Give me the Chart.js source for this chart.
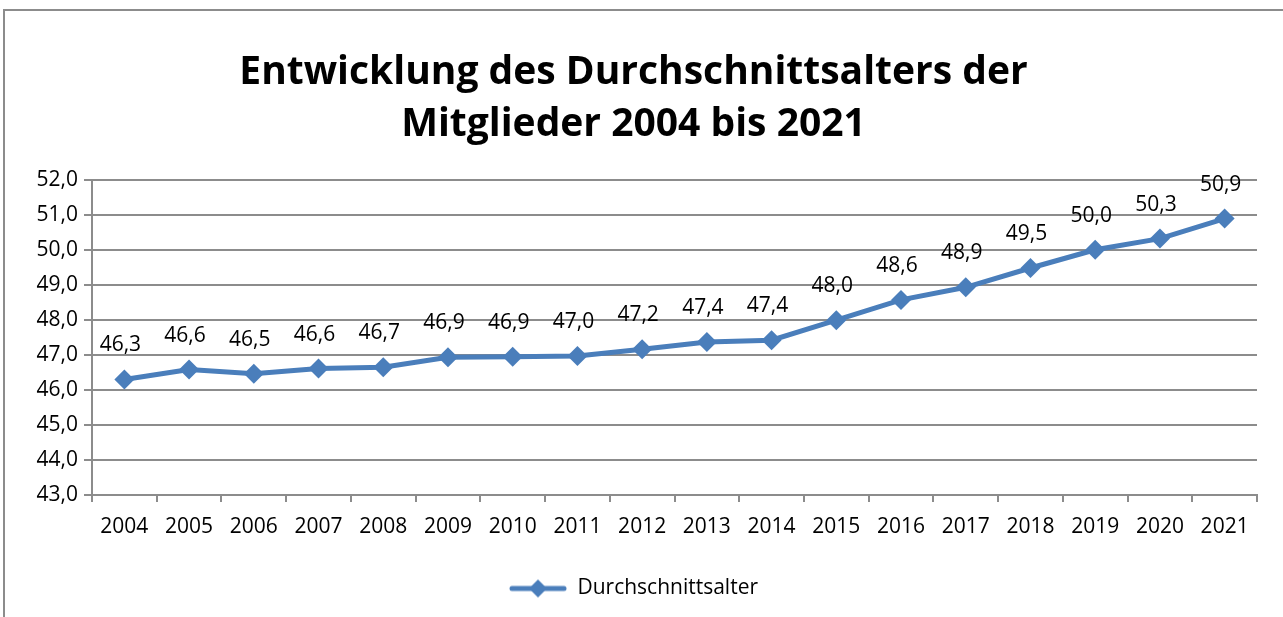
<!DOCTYPE html>
<html>
<head>
<meta charset="utf-8">
<script src="https://cdn.jsdelivr.net/npm/chart.js@4"></script>
<style>
    body { margin: 0; background: #fff; overflow: hidden; }
    #frame {
        position: absolute; left: 3px; top: 9px; width: 1300px; height: 700px;
        border-left: 2px solid #8c8c8c; border-top: 2px solid #8c8c8c;
    }
    #wrap { position: absolute; left: 0; top: 0; width: 1283px; height: 617px; }
</style>
</head>
<body>
<div id="frame"></div>
<div id="wrap"><canvas id="chart" width="1283" height="617"></canvas></div>
<script>
// Data
const years = ['2004', '2005', '2006', '2007', '2008', '2009', '2010', '2011', '2012',
    '2013', '2014', '2015', '2016', '2017', '2018', '2019', '2020', '2021'];
const averageAge = [46.30, 46.58, 46.46, 46.61, 46.65, 46.93, 46.95, 46.97, 47.16,
    47.37, 47.42, 47.99, 48.57, 48.93, 49.48, 50.00, 50.32, 50.89];
const ageLabels = ['46,3', '46,6', '46,5', '46,6', '46,7', '46,9', '46,9', '47,0', '47,2',
    '47,4', '47,4', '48,0', '48,6', '48,9', '49,5', '50,0', '50,3', '50,9'];
const yTicks = [43, 44, 45, 46, 47, 48, 49, 50, 51, 52];

const blue = '#4a7ebb';
const fontFamily = '"Open Sans", "Noto Sans", sans-serif';
const textSize = 21;

// Legend symbol: line with a diamond in the middle
const legendIcon = document.createElement('canvas');
legendIcon.width = 58;
legendIcon.height = 20;
(() => {
    const c = legendIcon.getContext('2d');
    c.strokeStyle = blue;
    c.lineWidth = 5;
    c.lineCap = 'round';
    c.beginPath();
    c.moveTo(3, 10);
    c.lineTo(55, 10);
    c.stroke();
    c.fillStyle = blue;
    c.beginPath();
    c.moveTo(29, 1);
    c.lineTo(38, 10);
    c.lineTo(29, 19);
    c.lineTo(20, 10);
    c.closePath();
    c.fill();
})();

// Value labels above the points
const valueLabels = {
    id: 'valueLabels',
    afterDatasetsDraw(chart) {
        const ctx = chart.ctx;
        const meta = chart.getDatasetMeta(0);
        ctx.save();
        ctx.font = textSize + 'px ' + fontFamily;
        ctx.fillStyle = '#000';
        ctx.textAlign = 'center';
        ctx.textBaseline = 'middle';
        meta.data.forEach((pt, i) => {
            ctx.fillText(ageLabels[i], pt.x - 4, pt.y - 34);
        });
        ctx.restore();
    }
};

new Chart(document.getElementById('chart'), {
    type: 'line',
    data: {
        labels: years,
        datasets: [{
            label: 'Durchschnittsalter',
            data: averageAge,
            borderColor: blue,
            backgroundColor: blue,
            borderWidth: 5,
            pointStyle: 'rectRot',
            pointRadius: 10,
            pointHoverRadius: 10,
            pointBorderWidth: 0,
            tension: 0
        }]
    },
    options: {
        responsive: false,
        animation: false,
        layout: { padding: { left: 10, right: 26, top: 47, bottom: 8 } },
        plugins: {
            title: {
                display: true,
                text: ['Entwicklung des Durchschnittsalters der', 'Mitglieder 2004 bis 2021'],
                color: '#000',
                font: { family: fontFamily, size: 39, weight: 'bold', lineHeight: 1.33 },
                padding: { top: 0, bottom: 29 }
            },
            legend: {
                position: 'bottom',
                labels: {
                    usePointStyle: true,
                    pointStyle: legendIcon,
                    pointStyleWidth: 58,
                    boxHeight: 18,
                    color: '#000',
                    font: { family: fontFamily, size: textSize },
                    padding: 10
                }
            },
            tooltip: { enabled: false }
        },
        scales: {
            y: {
                min: 43,
                max: 52,
                afterBuildTicks: scale => { scale.ticks = yTicks.map(v => ({ value: v })); },
                afterFit: scale => { scale.width = 82; },
                ticks: {
                    color: '#000',
                    font: { family: fontFamily, size: textSize },
                    padding: 6,
                    callback: v => v.toFixed(1).replace('.', ',')
                },
                grid: { color: '#8c8c8c', lineWidth: 2, tickLength: 8 },
                border: { color: '#8c8c8c', width: 2 }
            },
            x: {
                offset: true,
                afterFit: scale => { scale.height = 73; },
                ticks: {
                    color: '#000',
                    font: { family: fontFamily, size: textSize },
                    padding: 12,
                    maxRotation: 0,
                    autoSkip: false
                },
                grid: { offset: true, drawOnChartArea: false, color: '#8c8c8c', lineWidth: 2, tickLength: 7 },
                border: { color: '#8c8c8c', width: 2 }
            }
        }
    },
    plugins: [valueLabels]
});
</script>
</body>
</html>
